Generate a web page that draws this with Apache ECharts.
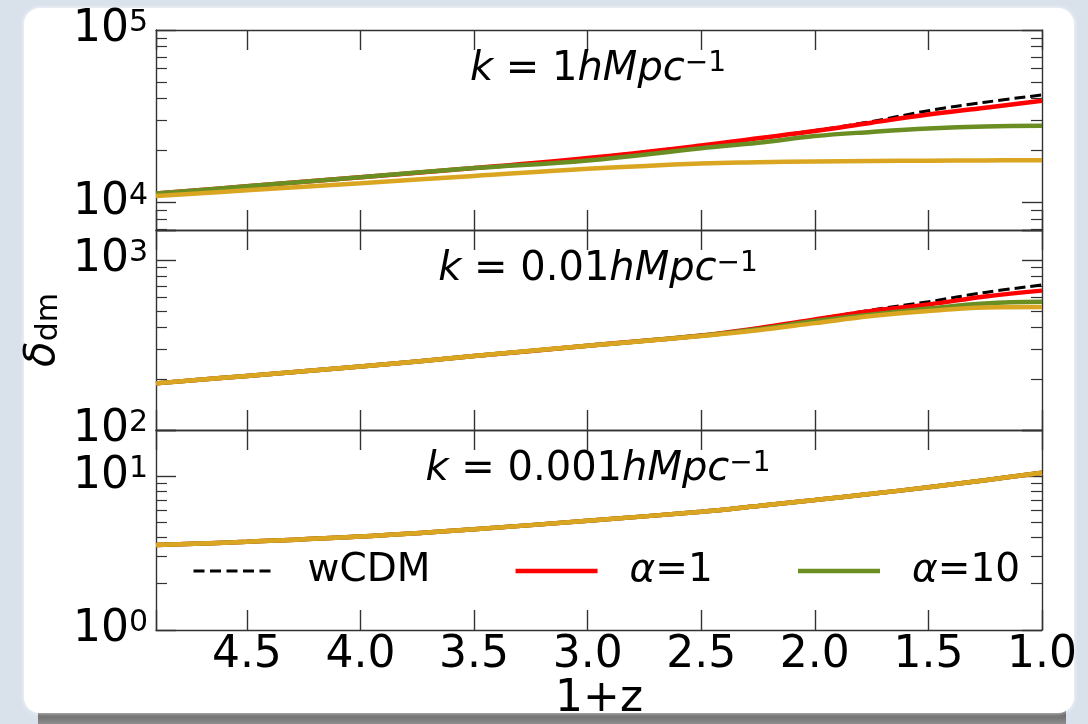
<!DOCTYPE html>
<html>
<head>
<meta charset="utf-8">
<script src="https://cdn.jsdelivr.net/npm/echarts@6/dist/echarts.min.js"></script>
<style>
  html, body { margin: 0; padding: 0; background: #d9e1eb; }
  #chart { width: 1088px; height: 724px; }
</style>
</head>
<body>
<div id="chart"></div>
<script>
// Redshift grid (1+z), read at these points
const zValues = [4.9, 4.5, 4.0, 3.5, 3.0, 2.5, 2.25, 2.0, 1.75, 1.5, 1.25, 1.0];

// delta_dm for k = 1 h/Mpc
const k1_wcdm   = [11300, 12450, 14050, 15860, 18150, 21440, 23650, 26190, 29530, 34100, 38190, 42050];
const k1_a1     = [11300, 12450, 14050, 15860, 18150, 21440, 23600, 25980, 29060, 32370, 35490, 38960];
const k1_a10    = [11300, 12450, 14050, 15860, 17560, 20690, 22250, 24310, 25700, 26900, 27660, 27920];
const k1_a100   = [10930, 11800, 12970, 14280, 15710, 16870, 17140, 17320, 17440, 17510, 17580, 17600];

// delta_dm for k = 0.01 h/Mpc
const k01_wcdm  = [188, 208, 236, 272, 313, 360, 398, 447, 508, 568, 644, 713];
const k01_a1    = [188, 208, 236, 272, 313, 360, 397, 446, 501, 547, 610, 660];
const k01_a10   = [188, 208, 236, 272, 313, 358, 392, 437, 478, 518, 555, 568];
const k01_a100  = [188, 208, 236, 272, 313, 357, 386, 425, 468, 501, 526, 529];

// delta_dm for k = 0.001 h/Mpc (all models coincide)
const k001_wcdm = [3.57, 3.75, 4.05, 4.52, 5.14, 5.88, 6.41, 7.01, 7.69, 8.48, 9.43, 10.55];
const k001_a1   = [3.57, 3.75, 4.05, 4.52, 5.14, 5.88, 6.41, 7.01, 7.69, 8.48, 9.43, 10.55];
const k001_a10  = [3.57, 3.75, 4.05, 4.52, 5.14, 5.88, 6.41, 7.01, 7.69, 8.48, 9.43, 10.55];
const k001_a100 = [3.57, 3.75, 4.05, 4.52, 5.14, 5.88, 6.41, 7.01, 7.69, 8.48, 9.43, 10.55];

// Tick labels
const xTickLabels = ['1.0', '1.5', '2.0', '2.5', '3.0', '3.5', '4.0', '4.5'];
const yExponents = [[4, 5], [2, 3], [0, 1]];

// Panel titles
const panelTitles = ['1', '0.01', '0.001'];

const seriesNames = ['wCDM', 'α=1', 'α=10', 'α=100'];
const panelData = [
  [k1_wcdm, k1_a1, k1_a10, k1_a100],
  [k01_wcdm, k01_a1, k01_a10, k01_a100],
  [k001_wcdm, k001_a1, k001_a10, k001_a100]
];

const FONT = 'DejaVu Sans';
const AXIS_COLOR = '#333';
const panelRange = [[6950, 100000], [100, 1500], [1, 20]];
const gridLeft = 156, gridRight = 46, gridTop = 30, panelH = 200;

const lineStyles = [
  { color: '#000000', width: 3, type: [11, 5] },
  { color: '#ff0000', width: 4.5, type: 'solid' },
  { color: '#6b8e23', width: 4.5, type: 'solid' },
  { color: '#daa520', width: 4.5, type: 'solid' }
];

function minorValues(lo, hi) {
  const out = [];
  for (let e = -1; e <= 6; e++) {
    for (let m = 2; m <= 9; m++) {
      const v = m * Math.pow(10, e);
      if (v > lo && v < hi) out.push(Math.log10(v));
    }
  }
  return out;
}

function isDecade(v) {
  const l = Math.log10(v);
  return Math.abs(l - Math.round(l)) < 1e-6;
}

const grids = [], xAxes = [], yAxes = [], series = [];

for (let g = 0; g < 3; g++) {
  grids.push({ left: gridLeft, right: gridRight, top: gridTop + g * panelH, height: panelH, containLabel: false });
  const [lo, hi] = panelRange[g];
  const isBottom = g === 2;

  // bottom and top x axes
  xAxes.push({
    type: 'value', gridIndex: g, position: 'bottom', inverse: true,
    min: 1.0, max: 4.9, interval: 0.5,
    axisLine: { show: true, onZero: false, lineStyle: { color: AXIS_COLOR, width: 1.4 } },
    axisTick: { show: true, inside: true, length: 20, lineStyle: { color: AXIS_COLOR, width: 1.4 } },
    splitLine: { show: false },
    axisLabel: {
      show: isBottom, margin: 4, fontSize: 44, fontFamily: FONT, color: '#000',
      formatter: v => { const s = v.toFixed(1); return xTickLabels.indexOf(s) >= 0 && Math.abs(v * 2 - Math.round(v * 2)) < 1e-6 ? s : ''; }
    },
    name: isBottom ? '1+z' : '', nameLocation: 'middle', nameGap: 48, nameMoveOverlap: false,
    nameTextStyle: { fontSize: 44, fontFamily: FONT, color: '#000' }
  });
  xAxes.push({
    type: 'value', gridIndex: g, position: 'top', inverse: true,
    min: 1.0, max: 4.9, interval: 0.5,
    axisLine: { show: true, onZero: false, lineStyle: { color: AXIS_COLOR, width: 1.4 } },
    axisTick: { show: true, inside: true, length: 20, lineStyle: { color: AXIS_COLOR, width: 1.4 } },
    splitLine: { show: false }, axisLabel: { show: false }
  });

  const exps = yExponents[g];
  const labelFmt = v => {
    if (!isDecade(v)) return '';
    const e = Math.round(Math.log10(v));
    return exps.indexOf(e) >= 0 ? '10{s|' + e + '}' : '';
  };
  // left major (log, carries data and labels)
  yAxes.push({
    type: 'log', logBase: 10, gridIndex: g, position: 'left', min: lo, max: hi,
    axisLine: { show: true, onZero: false, lineStyle: { color: AXIS_COLOR, width: 1.4 } },
    axisTick: { show: true, inside: true, length: 20, lineStyle: { color: AXIS_COLOR, width: 1.4 } },
    minorTick: { show: false }, splitLine: { show: false },
    axisLabel: {
      show: true, margin: 8, fontSize: 44, lineHeight: 44, fontFamily: FONT, color: '#000',
      formatter: labelFmt,
      rich: { s: { fontSize: 30, lineHeight: 22, verticalAlign: 'top', fontFamily: FONT, color: '#000' } }
    },
    name: g === 1 ? '{d|δ}{s|dm}' : '', nameLocation: 'middle', nameRotate: 90, nameGap: 92, nameMoveOverlap: false,
    nameTextStyle: {
      fontSize: 42, fontFamily: FONT, color: '#000',
      rich: {
        d: { fontSize: 42, lineHeight: 42, fontStyle: 'italic', fontFamily: FONT, color: '#000' },
        s: { fontSize: 30, lineHeight: 14, verticalAlign: 'bottom', fontFamily: FONT, color: '#000' }
      }
    }
  });
  // right major
  yAxes.push({
    type: 'log', logBase: 10, gridIndex: g, position: 'right', min: lo, max: hi,
    axisLine: { show: true, onZero: false, lineStyle: { color: AXIS_COLOR, width: 1.4 } },
    axisTick: { show: true, inside: true, length: 20, lineStyle: { color: AXIS_COLOR, width: 1.4 } },
    minorTick: { show: false }, splitLine: { show: false }, axisLabel: { show: false }
  });
  // minor ticks, left and right (log10 space)
  const minors = minorValues(lo, hi);
  ['left', 'right'].forEach(pos => {
    yAxes.push({
      type: 'value', gridIndex: g, position: pos, min: Math.log10(lo), max: Math.log10(hi),
      axisLine: { show: false },
      axisTick: { show: true, inside: true, length: 11, customValues: minors, lineStyle: { color: AXIS_COLOR, width: 1.2 } },
      splitLine: { show: false }, axisLabel: { show: false }
    });
  });

  for (let s = 0; s < 4; s++) {
    const vals = panelData[g][s];
    series.push({
      name: seriesNames[s], type: 'line',
      xAxisIndex: g * 2, yAxisIndex: g * 4,
      data: zValues.map((z, i) => [z, vals[i]]),
      symbol: 'none', showSymbol: false, smooth: 0.4,
      lineStyle: lineStyles[s], itemStyle: { color: lineStyles[s].color },
      z: 2 + s, silent: true
    });
  }
}

const mathRich = {
  i: { fontStyle: 'italic', fontSize: 40, lineHeight: 40, fontFamily: FONT },
  r: { fontSize: 40, lineHeight: 40, fontFamily: FONT },
  s: { fontSize: 28, lineHeight: 16, verticalAlign: 'top', fontFamily: FONT }
};

const graphics = [
  { type: 'rect', z: -20, shape: { x: 38, y: 708, width: 1028, height: 16 },
    style: { fill: { type: 'linear', x: 0, y: 0, x2: 0, y2: 1, colorStops: [
      { offset: 0, color: '#4e4e4e' }, { offset: 1, color: '#8f8f8f' } ] } } },
  { type: 'rect', z: -10, shape: { x: 24, y: 8, width: 1050, height: 705, r: 16 },
    style: { fill: '#ffffff', shadowBlur: 4, shadowColor: 'rgba(255,255,255,0.9)' } }
];
panelTitles.forEach((k, g) => {
  graphics.push({
    type: 'text', z: 10, x: 598, y: gridTop + g * panelH + 40,
    style: {
      text: '{i|k}{r| = ' + k + '}{i|hMpc}{s|−1}',
      align: 'center', verticalAlign: 'middle', fill: '#000',
      fontSize: 40, fontFamily: FONT, rich: mathRich
    }
  });
});

const chart = echarts.init(document.getElementById('chart'), null, { renderer: 'canvas' });
chart.setOption({
  animation: false,
  backgroundColor: '#d9e1eb',
  grid: grids,
  xAxis: xAxes,
  yAxis: yAxes,
  legend: {
    data: [
      { name: 'wCDM', lineStyle: { width: 3, type: [11, 5.5], color: '#000000' } },
      { name: 'α=1', lineStyle: { width: 4.5, color: '#ff0000' } },
      { name: 'α=10', lineStyle: { width: 4.5, color: '#6b8e23' } }
    ],
    left: 192, top: 551, padding: 0,
    itemWidth: 82, itemHeight: 14, itemGap: 83,
    itemStyle: { opacity: 0 },
    formatter: n => n.charAt(0) === 'α' ? '{a|α}' + n.slice(1) : n,
    textStyle: {
      fontSize: 39, lineHeight: 40, fontFamily: FONT, color: '#000', padding: [0, 0, 0, 27],
      rich: { a: { fontSize: 39, lineHeight: 40, fontStyle: 'italic', fontFamily: FONT, color: '#000' } }
    }
  },
  graphic: graphics,
  series: series
});
</script>
</body>
</html>
